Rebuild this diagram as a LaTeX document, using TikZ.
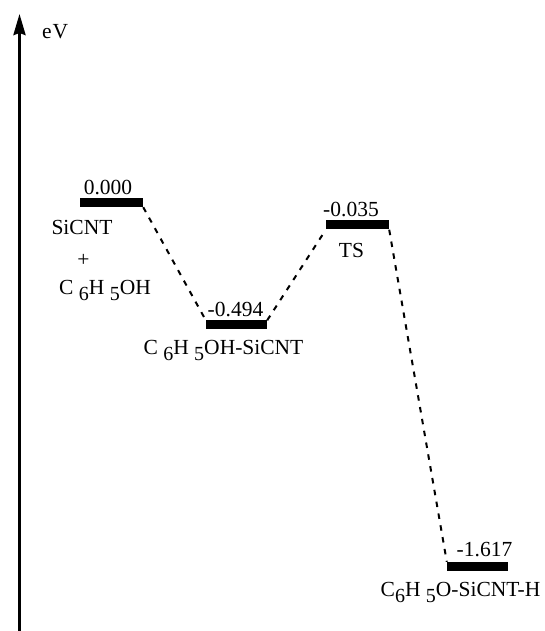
\documentclass[tikz,border=0pt]{standalone}
\usepackage{fontspec}
\setmainfont{Liberation Serif}
\usetikzlibrary{arrows.meta}
\newcommand\sbs[1]{\raisebox{-5.5pt}{\fontsize{20}{20}\selectfont #1}}
\tikzset{
  level/.style={fill=black, draw=none, minimum height=9pt, inner sep=0pt, minimum width=62pt},
  lbl/.style={inner sep=0pt, anchor=base, font=\fontsize{21.5}{24}\selectfont},
  path/.style={line width=2pt, dash pattern=on 5.5pt off 6.5pt}
}
\begin{document}
\begin{tikzpicture}[x=1pt, y=1pt]
  \useasboundingbox (0,0) rectangle (544,631);
  % energy axis
  \coordinate (axbot) at (19.5,0);
  \coordinate (axtop) at (19.5,617);
  \draw[line width=3pt, -{Stealth[length=21pt, width=12pt, inset=2pt]}] (axbot) -- (axtop);
  \node[lbl, anchor=base west] (ev) at (42,592) {e\kern1pt V};

  % energy levels
  \node[level, minimum width=63pt] (r)  at (111.5,428.5) {};
  \node[level, minimum width=61pt] (ad) at (236.5,306) {};
  \node[level, minimum width=63pt] (ts) at (357.5,406) {};
  \node[level, minimum width=61pt] (p)  at (477.5,64.5) {};

  % reaction path
  \draw[path] (r.south east) -- (ad.north west);
  \draw[path] (ad.north east) -- (ts.south west);
  \draw[path] (ts.south east) -- (p.north west);

  % energies
  \node[lbl] (er)  at (108,436) {0.000};
  \node[lbl] (ead) at (235.5,314) {-0.494};
  \node[lbl] (ets) at (351,414) {-0.035};
  \node[lbl] (ep)  at (484.5,74) {-1.617};

  % species
  \node[lbl] (s1) at (82,396) {SiCNT};
  \node[lbl] (s2) at (83.5,364) {+};
  \node[lbl] (s3) at (105,336) {C \sbs{6}H \sbs{5}OH};
  \node[lbl] (s4) at (223.5,276) {C \sbs{6}H \sbs{5}OH-SiCNT};
  \node[lbl] (s5) at (351.5,373) {TS};
  \node[lbl] (s6) at (460.5,34) {C\sbs{6}H \sbs{5}O-SiCNT-H};
\end{tikzpicture}
\end{document}
